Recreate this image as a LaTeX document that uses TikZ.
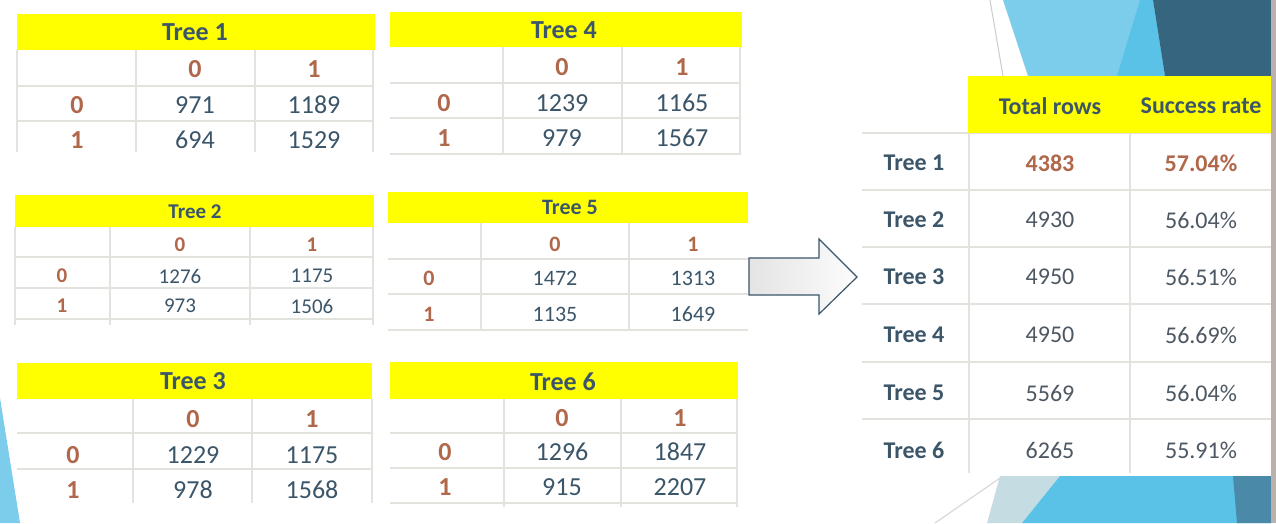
\documentclass[tikz,border=0pt]{standalone}
\usepackage{fontspec}
\setmainfont{Carlito}
\definecolor{slate}{HTML}{3B5569}
\definecolor{brownc}{HTML}{B0674A}
\definecolor{gridc}{HTML}{E3E3DE}
\definecolor{yellowc}{HTML}{FFFF00}
\definecolor{lblue}{HTML}{5BC2E7}
\definecolor{pblue}{HTML}{7CCCEB}
\definecolor{dblue}{HTML}{36667F}
\definecolor{mblue}{HTML}{4A8AA8}
\definecolor{taupe}{HTML}{BBB0AB}
\definecolor{valgray}{HTML}{4E5863}
\definecolor{arrowfill}{HTML}{E4E4E4}
\def\tfs{26}
\newcommand\ctab[6]{%
  \node[ttl] (#1t) at (\xt,\yt) {#2};
  \node[hd] (#1h0) at (\xa,\yh) {0};
  \node[hd] (#1h1) at (\xb,\yh) {1};
  \node[hd] (#1l0) at (\xl,\yr) {0};
  \node[hd] (#1l1) at (\xl,\ys) {1};
  \node[val] (#1a) at (\xa,\yr) {#3};
  \node[val] (#1b) at (\xb,\yr) {#4};
  \node[val] (#1c) at (\xa,\ys) {#5};
  \node[val] (#1d) at (\xb,\ys) {#6};
}
\begin{document}
\begin{tikzpicture}[x=1pt,y=-1pt,
  ttl/.style={font=\bfseries\fontsize{\tfs}{\tfs}\selectfont, text=slate, inner sep=0pt},
  hd/.style={font=\bfseries\fontsize{\tfs}{\tfs}\selectfont, text=brownc, inner sep=0pt},
  val/.style={font=\fontsize{\tfs}{\tfs}\selectfont, text=slate, inner sep=0pt},
  rval/.style={font=\fontsize{24}{24}\selectfont, text=valgray, inner sep=0pt},
  rbold/.style={font=\bfseries\fontsize{24}{24}\selectfont, text=brownc, inner sep=0pt},
  rhd/.style={font=\bfseries\fontsize{24}{24}\selectfont, text=slate, inner sep=0pt},
  gridl/.style={draw=gridc, line width=2pt},
  hdrfill/.style={fill=yellowc}]
\useasboundingbox (0,0) rectangle (1276,523);
\fill[white] (0,0) rectangle (1276,523);
% background decorations
\fill[pblue] (1003,0) -- (1153,0) -- (1165,76) -- (1028,76) -- cycle;
\fill[lblue] (1140,0) -- (1153,0) -- (1165,76) -- (1117,76) -- cycle;
\fill[dblue] (1153,0) -- (1271,0) -- (1271,76) -- (1165,76) -- cycle;
\draw[gray!40, line width=1pt] (990,0) -- (1003,76);
\fill[gridc!70!pblue] (1000,476) -- (1060,476) -- (1022,523) -- (987,523) -- cycle;
\fill[lblue] (1060,476) -- (1271,476) -- (1271,523) -- (1022,523) -- cycle;
\fill[mblue] (1233,476) -- (1271,476) -- (1271,523) -- (1237,523) -- cycle;
\draw[gray!30, line width=1.2pt] (1000,478) -- (935,523);
\fill[pblue] (0,398) -- (20,523) -- (0,523) -- cycle;
\fill[taupe] (1271,0) rectangle (1276,523);
% grids
\foreach \y in {86,121} \draw[gridl] (17,\y) -- (374,\y);
\foreach \x in {17,136,255,373} \draw[gridl] (\x,50) -- (\x,152);
\foreach \y in {83,118,154} \draw[gridl] (390,\y) -- (741,\y);
\foreach \x in {503,622,740} \draw[gridl] (\x,47) -- (\x,154);
\foreach \y in {257,288,319} \draw[gridl] (15,\y) -- (373,\y);
\foreach \x in {15,110,250,373} \draw[gridl] (\x,227) -- (\x,325);
\foreach \y in {259,294,330} \draw[gridl] (388,\y) -- (748,\y);
\foreach \x in {481,629} \draw[gridl] (\x,223) -- (\x,330);
\foreach \y in {433,469} \draw[gridl] (17,\y) -- (372,\y);
\foreach \x in {133,252,372} \draw[gridl] (\x,399) -- (\x,503);
\foreach \y in {433,468,503} \draw[gridl] (390,\y) -- (737,\y);
\foreach \x in {504,621,737} \draw[gridl] (\x,399) -- (\x,507);
\foreach \y in {133,190,247,304,362,419} \draw[gridl] (862,\y) -- (1271,\y);
\foreach \x in {969,1130} \draw[gridl] (\x,133) -- (\x,473);
% yellow headers
\fill[hdrfill] (17,14) rectangle (375,50);
\fill[hdrfill] (390,12) rectangle (742,47);
\fill[hdrfill] (15,195) rectangle (374,227);
\fill[hdrfill] (388,192) rectangle (748,223);
\fill[hdrfill] (17,363) rectangle (372,399);
\fill[hdrfill] (390,362) rectangle (738,399);
\fill[hdrfill] (968,76) rectangle (1271,133);
% Tree 1
\def\tfs{26}\def\xt{195}\def\yt{32}\def\xa{195}\def\xb{314}\def\xl{77}\def\yh{69}\def\yr{105}\def\ys{140}
\ctab{ta}{Tree 1}{971}{1189}{694}{1529}
% Tree 4
\def\tfs{26}\def\xt{564}\def\yt{30}\def\xa{562}\def\xb{682}\def\xl{444}\def\yh{67}\def\yr{103}\def\ys{138}
\ctab{td}{Tree 4}{1239}{1165}{979}{1567}
% Tree 2
\def\tfs{21}\def\xt{195}\def\yt{212}\def\xa{180}\def\xb{312}\def\xl{62}\def\yh{245}\def\yr{276}\def\ys{306}
\ctab{tb}{Tree 2}{1276}{1175}{973}{1506}
% Tree 5
\def\tfs{22}\def\xt{570}\def\yt{207}\def\xa{555}\def\xb{693}\def\xl{429}\def\yh{244}\def\yr{278}\def\ys{314}
\ctab{te}{Tree 5}{1472}{1313}{1135}{1649}
% Tree 3
\def\tfs{26}\def\xt{193}\def\yt{381}\def\xa{193}\def\xb{312}\def\xl{73}\def\yh{419}\def\yr{455}\def\ys{490}
\ctab{tc}{Tree 3}{1229}{1175}{978}{1568}
% Tree 6
\def\tfs{26}\def\xt{563}\def\yt{382}\def\xa{562}\def\xb{680}\def\xl{445}\def\yh{418}\def\yr{452}\def\ys{487}
\ctab{tf}{Tree 6}{1296}{1847}{915}{2207}
% arrow
\draw[slate, line width=1.2pt, left color=arrowfill, right color=white!90!arrowfill]
  (749,258) -- (819,258) -- (819,239) -- (857,277) -- (819,314) -- (819,295) -- (749,295) -- cycle;
% summary table
\node[rhd] (sh1) at (1050,106) {Total rows};
\node[rhd] (sh2) at (1201,106) {Success rate};
\node[rhd] (s1) at (914,163) {Tree 1};
\node[rbold] (s1a) at (1050,163) {4383};
\node[rbold] (s1b) at (1201,163) {57.04\%};
\node[rhd] (s2) at (914,220) {Tree 2};
\node[rval] (s2a) at (1050,220) {4930};
\node[rval] (s2b) at (1201,220) {56.04\%};
\node[rhd] (s3) at (914,277) {Tree 3};
\node[rval] (s3a) at (1050,277) {4950};
\node[rval] (s3b) at (1201,277) {56.51\%};
\node[rhd] (s4) at (914,335) {Tree 4};
\node[rval] (s4a) at (1050,335) {4950};
\node[rval] (s4b) at (1201,335) {56.69\%};
\node[rhd] (s5) at (914,393) {Tree 5};
\node[rval] (s5a) at (1050,393) {5569};
\node[rval] (s5b) at (1201,393) {56.04\%};
\node[rhd] (s6) at (914,450) {Tree 6};
\node[rval] (s6a) at (1050,450) {6265};
\node[rval] (s6b) at (1201,450) {55.91\%};
\end{tikzpicture}
\end{document}
